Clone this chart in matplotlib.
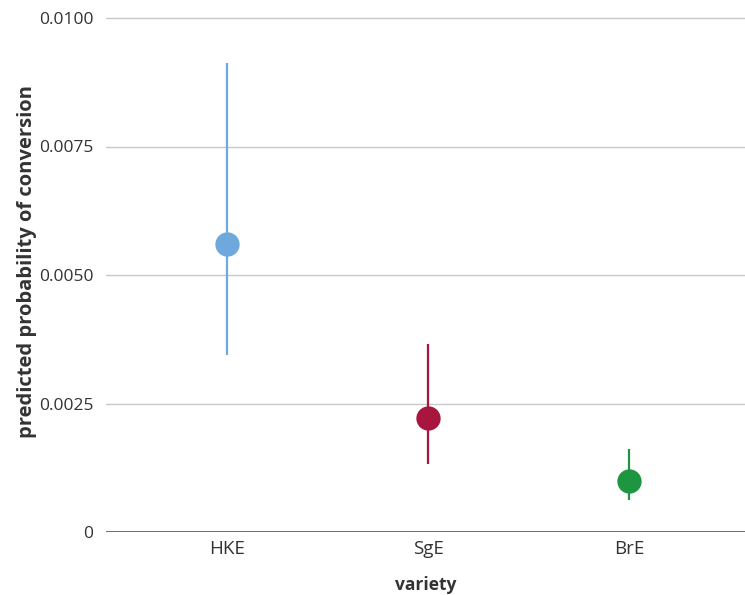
import matplotlib
matplotlib.use("Agg")
import matplotlib.pyplot as plt

varieties = ["HKE", "SgE", "BrE"]
predicted = [0.00560, 0.00222, 0.00099]
lower = [0.00344, 0.00132, 0.00062]
upper = [0.00912, 0.00366, 0.00162]
colors = ["#6fa8dc", "#a8163f", "#1e9641"]
yticks = [0, 0.0025, 0.0050, 0.0075, 0.0100]
ytick_labels = ["0", "0.0025", "0.0050", "0.0075", "0.0100"]

plt.rcParams["font.family"] = ["Open Sans", "DejaVu Sans"]

fig = plt.figure(figsize=(7.45, 5.95), dpi=100)
ymax = 0.0101
top_px = 532 - 514 * ymax / 0.01
ax = fig.add_axes([106 / 745, 1 - 532 / 595, 1 - 106 / 745, (532 - top_px) / 595])

for i, (p, lo, hi, c) in enumerate(zip(predicted, lower, upper, colors)):
    ax.vlines(i, lo, hi, color=c, linewidth=1.6, zorder=3)
    ax.plot(i, p, "o", color=c, markersize=17.5, markeredgewidth=0, zorder=4)

ax.set_xlim(-0.602, 2.577)
ax.set_ylim(0, ymax)
ax.set_xticks(range(len(varieties)))
ax.set_xticklabels(varieties, fontsize=13.5, color="#333333")
ax.set_yticks(yticks)
ax.set_yticklabels(ytick_labels, fontsize=12.5, color="#333333")
ax.tick_params(length=0, pad=9)
ax.tick_params(axis="x", pad=6)

for y in yticks[1:]:
    ax.axhline(y, color="#c8c8c8", linewidth=1.0, zorder=1)
ax.axhline(0, color="#555555", linewidth=1.2, zorder=2)

for spine in ax.spines.values():
    spine.set_visible(False)

ax.set_xlabel("variety", fontsize=12.5, fontweight="bold", color="#333333", labelpad=13)
ax.set_ylabel("predicted probability of conversion", fontsize=14.5, fontweight="bold",
              color="#333333")
ax.yaxis.set_label_coords(-0.108, 0.521)

fig.savefig("out.png", dpi=100)
